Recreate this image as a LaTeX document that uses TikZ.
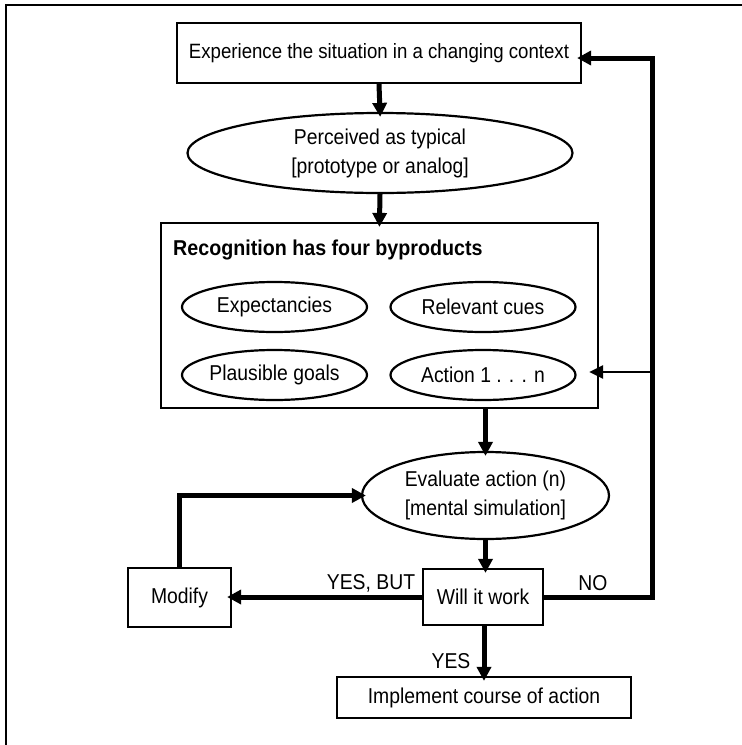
\documentclass[tikz,border=0pt]{standalone}
\usepackage{fontspec}
\setmainfont{Liberation Sans}[FakeStretch=0.9]
\newfontfamily\titlefont{Liberation Sans}[FakeStretch=0.915]
\usetikzlibrary{arrows.meta,shapes.geometric}
\begin{document}
\begin{tikzpicture}[x=1pt,y=-1pt,
  box/.style={draw,line width=2.2pt,rectangle,inner sep=0pt,align=center,font=\fontsize{21.5}{29}\selectfont},
  oval/.style={draw,line width=2.2pt,ellipse,inner sep=0pt,align=center,font=\fontsize{21.5}{29}\selectfont},
  thickarrow/.style={line width=5pt,-{Triangle[length=14pt,width=14pt]},shorten >=-5pt},
  thinarrow/.style={line width=2.5pt,-{Triangle[length=14pt,width=13pt]}},
  lbl/.style={font=\fontsize{21.5}{25}\selectfont,inner sep=0pt}]
\useasboundingbox (0,0) rectangle (742,745);
% frame
\draw[line width=2.5pt] (6,745) -- (6,5) -- (742,5);
% nodes
\node[box,minimum width=404pt,minimum height=60pt,font=\fontsize{20.7}{29}\selectfont] (top) at (379,53) {Experience the situation in a changing context};
\node[oval,minimum width=385pt,minimum height=80pt] (ell1) at (380,153) {Perceived as typical\\{[prototype or analog]}};
\node[box,minimum width=437pt,minimum height=185pt] (recog) at (379.5,315.5) {};
\node[anchor=west,inner sep=0pt,font=\titlefont\bfseries\fontsize{21.5}{25}\selectfont] (title) at (173,250) {Recognition has four byproducts};
\node[oval,minimum width=185pt,minimum height=50pt] (expect) at (274.5,307) {Expectancies};
\node[oval,minimum width=185pt,minimum height=50pt] (cues) at (483,307) {Relevant cues};
\node[oval,minimum width=185pt,minimum height=50pt] (goals) at (274.5,375) {Plausible goals};
\node[oval,minimum width=185pt,minimum height=50pt] (action) at (483,375) {Action 1 . . . n};
\node[oval,minimum width=247pt,minimum height=87pt] (eval) at (485.5,495.5) {Evaluate action (n)\\{[mental simulation]}};
\node[box,minimum width=120pt,minimum height=56pt] (will) at (483,597) {Will it work};
\node[box,minimum width=103pt,minimum height=59pt] (modify) at (179.5,597.5) {Modify};
\node[box,minimum width=294pt,minimum height=41pt] (impl) at (484,697.5) {Implement course of action};
% labels
\node[lbl] (lyesbut) at (371,583) {YES, BUT};
\node[lbl] (lno) at (593,583) {NO};
\node[lbl] (lyes) at (451,661) {YES};
% connectors
\draw[thickarrow] (top.south) -- (ell1.north);
\draw[thickarrow] (ell1.south) -- (recog.north);
\draw[thickarrow] (eval.north |- recog.south) -- (eval.north);
\draw[thickarrow] (eval.south) -- (eval.south |- will.north);
\draw[thickarrow] (will.south -| impl.north) -- (impl.north);
\draw[thickarrow] (will.west) -- (modify.east |- will.west);
\draw[thickarrow] (modify.north) |- (eval.west);
\coordinate (fb) at (652,58);
\draw[thickarrow] (will.east) -| (fb) -- ([yshift=-5pt]top.east);
\coordinate (br) at (652,372);
\draw[thinarrow] (br) -- ([xshift=-10pt]recog.east |- br);
\end{tikzpicture}
\end{document}
